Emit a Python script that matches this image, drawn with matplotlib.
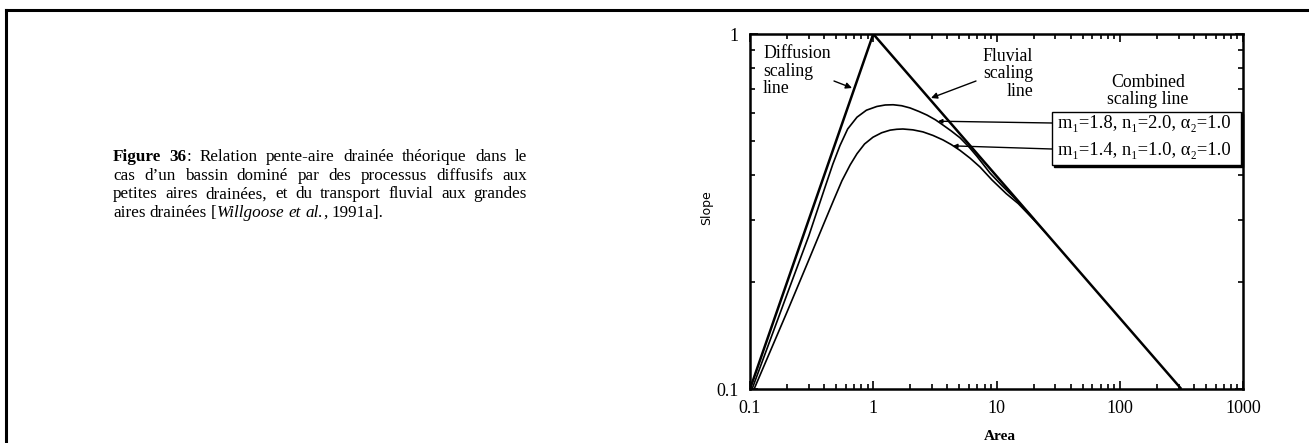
import matplotlib
matplotlib.use("Agg")
import matplotlib.pyplot as plt
from matplotlib.lines import Line2D
from matplotlib.patches import Rectangle
from matplotlib.ticker import FixedLocator, FixedFormatter, NullFormatter

W, H = 1309, 443
SERIF = ["Liberation Serif", "DejaVu Serif"]

# straight scaling lines (area, slope)
diffusion_area = [0.1, 1]
diffusion_slope = [0.1, 1]
fluvial_area = [1, 316]
fluvial_slope = [1, 0.1]

# combined scaling lines
upper_area = [0.104, 0.2, 0.3, 0.406, 0.47, 0.537, 0.62, 0.738, 0.88, 1.07, 1.25,
              1.45, 1.7, 1.99, 2.35, 2.73, 3.2, 3.68, 4.3, 5.06, 6.0, 6.95, 8.85,
              11, 13, 15, 20]
upper_slope = [0.1, 0.185, 0.27, 0.37, 0.43, 0.485, 0.54, 0.583, 0.61, 0.625, 0.631,
               0.632, 0.628, 0.619, 0.605, 0.591, 0.573, 0.554, 0.533, 0.51, 0.48,
               0.452, 0.406, 0.375, 0.354, 0.337, 0.302]
lower_area = [0.108, 0.2, 0.3, 0.4, 0.48, 0.557, 0.65, 0.738, 0.85, 0.995, 1.17,
              1.37, 1.55, 1.74, 2.1, 2.53, 3.05, 3.68, 4.3, 5.06, 6.1, 7.35, 9.19,
              12, 15, 20, 25]
lower_slope = [0.1, 0.165, 0.231, 0.294, 0.342, 0.386, 0.428, 0.46, 0.49, 0.512, 0.527,
               0.536, 0.539, 0.54, 0.537, 0.53, 0.518, 0.503, 0.488, 0.47, 0.447,
               0.422, 0.388, 0.355, 0.333, 0.300, 0.276]

x_ticks = [0.1, 1, 10, 100, 1000]
x_labels = ["0.1", "1", "10", "100", "1000"]
y_ticks = [0.1, 1]
y_labels = ["0.1", "1"]

legend_labels = ["m\u2081=1.8, n\u2081=2.0, \u03b1\u2082=1.0",
                 "m\u2081=1.4, n\u2081=1.0, \u03b1\u2082=1.0"]
# points on the curves the legend lines point at
legend_targets = [(3.35, 0.568), (4.44, 0.484)]

N, B, I = "normal", "bold", "italic"
caption_lines = [
    [[("Figure", B, N)], [("36", B, N), (":", N, N)], [("Relation", N, N)],
     [("pente-aire", N, N)], [("drainée", N, N)], [("théorique", N, N)],
     [("dans", N, N)], [("le", N, N)]],
    [[(w, N, N)] for w in "cas d’un bassin dominé par des processus diffusifs aux".split()],
    [[(w, N, N)] for w in "petites aires drainées, et du transport fluvial aux grandes".split()],
    [[("aires", N, N)], [("drainées", N, N)], [("[", N, N), ("Willgoose", N, I)],
     [("et", N, I)], [("al.", N, I), (",", N, N)], [("1991a].", N, N)]],
]
CAP_SIZE = 12.3


def fx(x):
    return x / W


def fy(y):
    return 1 - y / H


fig = plt.figure(figsize=(W / 100, H / 100), dpi=100)
fig.patch.set_facecolor("white")

# page frame (top and left edges only)
fig.add_artist(Line2D([fx(6), 1], [fy(10), fy(10)], transform=fig.transFigure,
                      color="black", lw=2.2))
fig.add_artist(Line2D([fx(6), fx(6)], [fy(10), 0], transform=fig.transFigure,
                      color="black", lw=2.2))

ax = fig.add_axes([fx(750), fy(389), (1243 - 750) / W, (389 - 34) / H])
ax.set_xscale("log")
ax.set_yscale("log")
ax.set_xlim(0.1, 1000)
ax.set_ylim(0.1, 1)

ax.plot(diffusion_area, diffusion_slope, color="black", lw=1.8, solid_capstyle="butt")
ax.plot(fluvial_area, fluvial_slope, color="black", lw=1.8, solid_capstyle="butt")
ax.plot(upper_area, upper_slope, color="black", lw=1.2)
ax.plot(lower_area, lower_slope, color="black", lw=1.2)

ax.xaxis.set_major_locator(FixedLocator(x_ticks))
ax.xaxis.set_major_formatter(FixedFormatter(x_labels))
ax.yaxis.set_major_locator(FixedLocator(y_ticks))
ax.yaxis.set_major_formatter(FixedFormatter(y_labels))
ax.xaxis.set_minor_locator(FixedLocator([m * 10.0 ** e for e in range(-1, 3) for m in range(2, 10)]))
ax.yaxis.set_minor_locator(FixedLocator([m * 0.1 for m in range(2, 10)]))
ax.xaxis.set_minor_formatter(NullFormatter())
ax.yaxis.set_minor_formatter(NullFormatter())
ax.tick_params(which="both", direction="in", top=True, right=True, width=1.2)
ax.tick_params(which="major", length=6, pad=8, labelsize=13)
ax.tick_params(which="minor", length=3.5)
for lab in ax.get_xticklabels() + ax.get_yticklabels():
    lab.set_family(SERIF)
for sp in ax.spines.values():
    sp.set_linewidth(1.8)

fig.text(fx(707), fy(208), "Slope", rotation=90, ha="center", va="center",
         fontsize=9, family=["DejaVu Sans"])
fig.text(fx(1000), fy(436), "Area", ha="center", va="center", fontsize=11,
         family=SERIF, weight="bold")

# annotations inside the plot
tkw = dict(fontsize=12.8, family=SERIF, linespacing=1.02)
fig.text(fx(763), fy(71), "Diffusion\nscaling\nline", ha="left", va="center", **tkw)
fig.text(fx(1033), fy(74), "Fluvial\nscaling\nline", ha="right", va="center",
         multialignment="right", **tkw)
fig.text(fx(1148), fy(91), "Combined\nscaling line", ha="center", va="center",
         multialignment="center", **tkw)

arrow = dict(arrowstyle="-|>", color="black", lw=1.0, mutation_scale=9,
             shrinkA=0, shrinkB=0)
ax.annotate("", xy=(fx(852), fy(88)), xycoords="figure fraction",
            xytext=(fx(834), fy(81)), textcoords="figure fraction", arrowprops=arrow)
ax.annotate("", xy=(fx(931), fy(98)), xycoords="figure fraction",
            xytext=(fx(976), fy(81)), textcoords="figure fraction", arrowprops=arrow)

# legend box with drop shadow
box_l, box_t, box_r, box_b = 1052, 112, 1241, 165
fig.add_artist(Rectangle((fx(box_l + 2), fy(box_b + 2)), (box_r - box_l) / W,
                         (box_b - box_t) / H, transform=fig.transFigure,
                         facecolor="black", edgecolor="black", zorder=5))
fig.add_artist(Rectangle((fx(box_l), fy(box_b)), (box_r - box_l) / W,
                         (box_b - box_t) / H, transform=fig.transFigure,
                         facecolor="white", edgecolor="black", lw=1.0, zorder=6))
for k, (label, target) in enumerate(zip(legend_labels, legend_targets)):
    ty = 124 + 26 * k
    fig.text(fx(1058), fy(ty), label, ha="left", va="center", fontsize=13.3,
             family=SERIF, zorder=7)
    ax.annotate("", xy=target, xycoords="data",
                xytext=(fx(box_l), fy(ty - 1)), textcoords="figure fraction",
                arrowprops=dict(arrowstyle="-|>", color="black", lw=1.0,
                                mutation_scale=6, shrinkA=0, shrinkB=0))

# justified caption on the left
renderer = fig.canvas.get_renderer()


def seg_width(s, weight, style):
    t = fig.text(0, 0, s, fontsize=CAP_SIZE, family=SERIF, weight=weight, style=style)
    w = t.get_window_extent(renderer).width
    t.remove()
    return w


space = seg_width("x x", N, N) - seg_width("xx", N, N)
cap_left, cap_right = 113, 527
for row, words in enumerate(caption_lines):
    base = 161 + 18.7 * row
    widths = [[seg_width(*seg) for seg in word] for word in words]
    totals = [sum(w) for w in widths]
    if row < len(caption_lines) - 1:
        gap = (cap_right - cap_left - sum(totals)) / (len(words) - 1)
    else:
        gap = space
    x = cap_left
    for word, ws in zip(words, widths):
        for (s, weight, style), w in zip(word, ws):
            fig.text(fx(x), fy(base), s, ha="left", va="baseline", fontsize=CAP_SIZE,
                     family=SERIF, weight=weight, style=style)
            x += w
        x += gap

fig.savefig("out.png", dpi=100, facecolor="white")
